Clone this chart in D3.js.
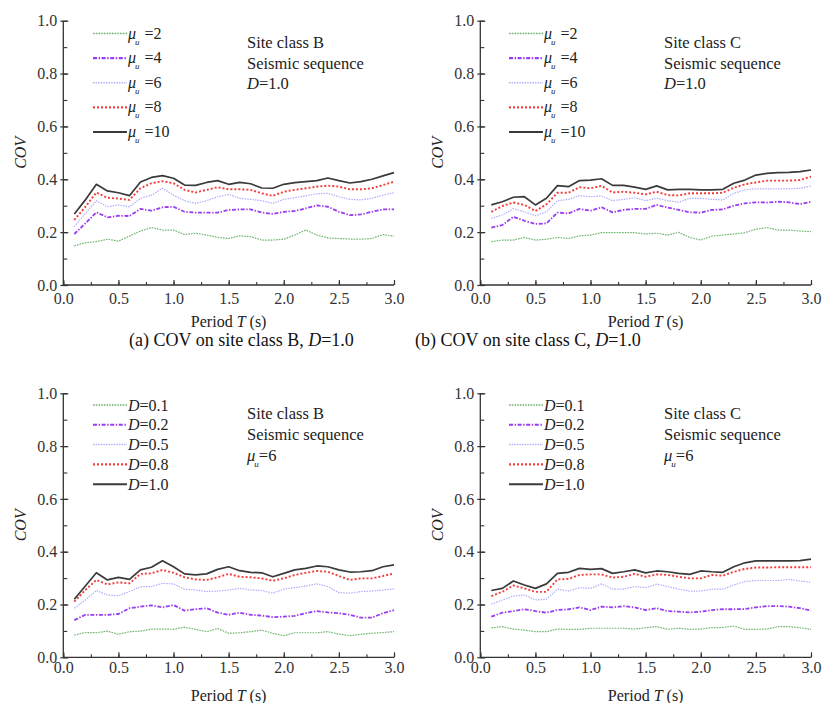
<!DOCTYPE html>
<html><head><meta charset="utf-8">
<script src="https://cdn.jsdelivr.net/npm/d3@7"></script>
<style>
body{margin:0;background:#fff;}
svg, svg text{font-family:'Liberation Serif','Times New Roman',Times,'DejaVu Serif',serif !important;}
</style></head>
<body><svg id="c" width="822" height="703"></svg>
<script>
// ---- data ----
const periods = [0.1,0.2,0.3,0.4,0.5,0.6,0.7,0.8,0.9,1.0,1.1,1.2,1.3,1.4,1.5,1.6,1.7,1.8,1.9,2.0,2.1,2.2,2.3,2.4,2.5,2.6,2.7,2.8,2.9,3.0];
const xTicks = [0.0,0.5,1.0,1.5,2.0,2.5,3.0];
const yTicks = [0.0,0.2,0.4,0.6,0.8,1.0];

const muLabels = ["2","4","6","8","10"];
const dLabels = ["0.1","0.2","0.5","0.8","1.0"];

// (a) site class B, D=1.0
const a_mu2  = [0.148,0.160,0.164,0.173,0.166,0.185,0.204,0.217,0.208,0.208,0.191,0.196,0.189,0.180,0.176,0.186,0.183,0.170,0.170,0.173,0.189,0.208,0.189,0.178,0.176,0.174,0.173,0.176,0.191,0.185];
const a_mu4  = [0.193,0.233,0.275,0.256,0.262,0.261,0.288,0.281,0.294,0.296,0.277,0.274,0.274,0.274,0.284,0.286,0.286,0.274,0.269,0.277,0.280,0.290,0.301,0.296,0.277,0.264,0.267,0.277,0.286,0.286];
const a_mu6  = [0.221,0.271,0.319,0.296,0.303,0.296,0.328,0.340,0.366,0.340,0.319,0.309,0.319,0.334,0.343,0.328,0.324,0.319,0.309,0.324,0.330,0.337,0.345,0.347,0.334,0.324,0.322,0.328,0.340,0.349];
const a_mu8  = [0.246,0.296,0.350,0.330,0.327,0.322,0.366,0.385,0.393,0.385,0.360,0.350,0.360,0.370,0.362,0.362,0.360,0.347,0.337,0.353,0.360,0.366,0.372,0.376,0.372,0.362,0.362,0.366,0.378,0.391];
const a_mu10 = [0.269,0.322,0.381,0.356,0.349,0.338,0.390,0.407,0.414,0.404,0.378,0.377,0.388,0.395,0.381,0.388,0.383,0.367,0.366,0.381,0.387,0.391,0.395,0.405,0.395,0.386,0.391,0.400,0.413,0.425];

// (b) site class C, D=1.0
const b_mu2  = [0.164,0.170,0.170,0.180,0.170,0.173,0.180,0.176,0.186,0.189,0.198,0.198,0.198,0.198,0.193,0.196,0.189,0.199,0.180,0.170,0.185,0.189,0.193,0.198,0.211,0.217,0.208,0.208,0.204,0.202];
const b_mu4  = [0.217,0.227,0.258,0.243,0.231,0.233,0.274,0.271,0.288,0.281,0.294,0.275,0.284,0.288,0.288,0.303,0.293,0.284,0.275,0.274,0.284,0.286,0.300,0.309,0.313,0.312,0.315,0.313,0.306,0.315];
const b_mu6  = [0.252,0.265,0.289,0.277,0.262,0.277,0.319,0.324,0.338,0.334,0.337,0.319,0.324,0.330,0.319,0.328,0.319,0.313,0.328,0.328,0.324,0.322,0.347,0.360,0.364,0.364,0.364,0.364,0.366,0.375];
const b_mu8  = [0.277,0.299,0.312,0.303,0.280,0.305,0.349,0.349,0.370,0.366,0.375,0.350,0.353,0.349,0.343,0.353,0.340,0.339,0.347,0.347,0.347,0.349,0.368,0.381,0.388,0.395,0.395,0.395,0.397,0.410];
const b_mu10 = [0.303,0.315,0.332,0.334,0.303,0.328,0.376,0.372,0.395,0.397,0.402,0.377,0.377,0.370,0.362,0.375,0.360,0.362,0.362,0.360,0.360,0.362,0.385,0.397,0.416,0.422,0.425,0.426,0.429,0.435];

// (c) site class B, mu=6
const c_d01 = [0.084,0.094,0.093,0.099,0.087,0.097,0.099,0.107,0.107,0.106,0.114,0.106,0.097,0.109,0.091,0.093,0.097,0.103,0.091,0.082,0.093,0.093,0.093,0.097,0.088,0.082,0.087,0.091,0.094,0.097];
const c_d02 = [0.141,0.161,0.161,0.161,0.164,0.186,0.192,0.197,0.189,0.198,0.177,0.182,0.186,0.169,0.161,0.169,0.161,0.158,0.152,0.154,0.157,0.167,0.175,0.170,0.167,0.161,0.150,0.150,0.167,0.179];
const c_d05 = [0.186,0.217,0.253,0.236,0.233,0.249,0.268,0.268,0.280,0.278,0.258,0.255,0.249,0.251,0.255,0.261,0.255,0.253,0.243,0.258,0.264,0.270,0.278,0.268,0.245,0.243,0.249,0.251,0.255,0.259];
const c_d08 = [0.211,0.255,0.293,0.276,0.284,0.280,0.316,0.318,0.331,0.320,0.303,0.295,0.293,0.303,0.316,0.305,0.303,0.299,0.290,0.299,0.312,0.320,0.327,0.324,0.308,0.293,0.299,0.299,0.308,0.318];
const c_d10 = [0.220,0.270,0.320,0.293,0.303,0.295,0.331,0.341,0.366,0.343,0.316,0.312,0.316,0.333,0.343,0.328,0.322,0.320,0.305,0.318,0.331,0.337,0.346,0.343,0.331,0.323,0.324,0.328,0.343,0.350];

// (d) site class C, mu=6
const d_d01 = [0.112,0.116,0.107,0.103,0.097,0.097,0.107,0.106,0.106,0.110,0.110,0.110,0.110,0.107,0.112,0.116,0.106,0.110,0.106,0.107,0.112,0.113,0.118,0.106,0.106,0.107,0.116,0.116,0.112,0.106];
const d_d02 = [0.154,0.169,0.175,0.182,0.175,0.169,0.179,0.182,0.189,0.179,0.192,0.189,0.194,0.189,0.179,0.186,0.175,0.173,0.170,0.173,0.179,0.182,0.182,0.183,0.189,0.194,0.194,0.192,0.186,0.177];
const d_d05 = [0.201,0.217,0.232,0.236,0.217,0.220,0.258,0.251,0.264,0.261,0.278,0.258,0.258,0.268,0.264,0.277,0.268,0.258,0.251,0.251,0.258,0.258,0.274,0.287,0.291,0.291,0.291,0.295,0.289,0.284];
const d_d08 = [0.232,0.248,0.272,0.261,0.248,0.248,0.295,0.297,0.312,0.314,0.314,0.302,0.305,0.316,0.305,0.314,0.312,0.305,0.299,0.299,0.312,0.309,0.324,0.335,0.340,0.340,0.341,0.341,0.341,0.341];
const d_d10 = [0.253,0.261,0.289,0.274,0.261,0.278,0.318,0.322,0.337,0.333,0.336,0.318,0.324,0.331,0.320,0.327,0.324,0.318,0.314,0.327,0.324,0.322,0.343,0.358,0.365,0.365,0.365,0.365,0.366,0.372];

// ---- styles ----
const styles = [
  {color:"#6db36d", width:1.2, dash:"1.6,1.1"},
  {color:"#9a3cf0", width:1.8, dash:"4,1.6,1.4,1.6"},
  {color:"#a9a9ff", width:1.2, dash:"1.4,1.2"},
  {color:"#f53c3c", width:1.9, dash:"2,2"},
  {color:"#3a3a3a", width:1.7, dash:null}
];

const svg = d3.select("#c");

const panels = [
  {left:63.3, right:394, top:20.7, bottom:285, series:[a_mu2,a_mu4,a_mu6,a_mu8,a_mu10], legendType:"mu", labels:muLabels,
   legX:93, legY:33.5, legStep:24.6, annX:247, annY:48, annStep:20.5, site:"B", third:"D", xlabY:327, tickLabY:304},
  {left:480.3, right:811, top:20.7, bottom:285, series:[b_mu2,b_mu4,b_mu6,b_mu8,b_mu10], legendType:"mu", labels:muLabels,
   legX:509, legY:33.5, legStep:24.6, annX:664, annY:48, annStep:20.5, site:"C", third:"D", xlabY:327, tickLabY:304},
  {left:63.3, right:394, top:393.3, bottom:657.3, series:[c_d01,c_d02,c_d05,c_d08,c_d10], legendType:"D", labels:dLabels,
   legX:93, legY:405, legStep:19.8, annX:247, annY:419, annStep:21, site:"B", third:"mu", xlabY:701, tickLabY:673},
  {left:480.3, right:811, top:393.3, bottom:657.3, series:[d_d01,d_d02,d_d05,d_d08,d_d10], legendType:"D", labels:dLabels,
   legX:509, legY:405, legStep:19.8, annX:664, annY:419, annStep:21, site:"C", third:"mu", xlabY:701, tickLabY:673}
];

function muText(sel, x, y, rest, fs, gap){
  const t = sel.append("text").attr("x",x).attr("y",y).attr("font-size",fs).attr("fill","#222");
  t.append("tspan").attr("font-style","italic").text("μ");
  t.append("tspan").attr("font-size",fs*0.55).attr("font-style","italic").attr("dy",fs*0.38).attr("dx",-1).text("u");
  t.append("tspan").attr("dy",-fs*0.38).attr("dx",gap).text(rest);
}
function dText(sel, x, y, rest, fs){
  const t = sel.append("text").attr("x",x).attr("y",y).attr("font-size",fs).attr("fill","#222");
  t.append("tspan").attr("font-style","italic").text("D");
  t.append("tspan").text(rest);
}

panels.forEach(p => {
  const x = d3.scaleLinear().domain([0,3]).range([p.left,p.right]);
  const y = d3.scaleLinear().domain([0,1]).range([p.bottom,p.top]);
  const g = svg.append("g");

  // axes
  const xMinor = d3.range(0,3.0001,0.25);
  const yMinor = d3.range(0,1.0001,0.1);
  g.append("g").attr("transform",`translate(0,${p.bottom})`)
    .call(d3.axisBottom(x).tickValues(xMinor).tickSize(-3).tickFormat(""))
    .call(a=>{a.select(".domain").remove(); a.selectAll("line").attr("stroke","#333").attr("stroke-width",1.1);});
  g.append("g").attr("transform",`translate(0,${p.bottom})`)
    .call(d3.axisBottom(x).tickValues(xTicks).tickSize(-5).tickPadding(10).tickFormat(d3.format(".1f")))
    .call(a=>{a.attr("font-family",null);
      a.select(".domain").attr("stroke","#333").attr("stroke-width",1.3).attr("d",`M${p.left},0H${p.right}`);
      a.selectAll("line").attr("stroke","#333").attr("stroke-width",1.2);
      a.selectAll("text").attr("font-size",16).attr("fill","#333")
        .attr("y",0).attr("dy",0).attr("transform",`translate(0,${p.tickLabY-p.bottom})`);});
  g.append("g").attr("transform",`translate(${p.left},0)`)
    .call(d3.axisLeft(y).tickValues(yMinor).tickSize(-4).tickFormat(""))
    .call(a=>{a.select(".domain").remove(); a.selectAll("line").attr("stroke","#333").attr("stroke-width",1.1);});
  g.append("g").attr("transform",`translate(${p.left},0)`)
    .call(d3.axisLeft(y).tickValues(yTicks).tickSize(3).tickPadding(3).tickFormat(d3.format(".1f")))
    .call(a=>{a.attr("font-family",null);
      a.select(".domain").attr("stroke","#333").attr("stroke-width",1.3).attr("d",`M0,${p.top}V${p.bottom}`);
      a.selectAll("line").attr("stroke","#333").attr("stroke-width",1.2).attr("x1",5).attr("x2",-3);
      a.selectAll("text").attr("font-size",16).attr("fill","#333");});

  // axis titles
  g.append("text").attr("transform",`translate(${p.left-43},${(p.top+p.bottom)/2}) rotate(-90)`)
    .attr("text-anchor","middle").attr("dy","0.35em").attr("font-style","italic")
    .attr("font-size",16).attr("fill","#222").text("COV");
  const xt = g.append("text").attr("x",(p.left+p.right)/2).attr("y",p.xlabY).attr("text-anchor","middle")
    .attr("font-size",16).attr("fill","#222");
  xt.append("tspan").text("Period ");
  xt.append("tspan").attr("font-style","italic").text("T");
  xt.append("tspan").text(" (s)");

  // lines
  const line = d3.line().x((d,i)=>x(periods[i])).y(d=>y(d));
  p.series.forEach((s,k)=>{
    const st = styles[k];
    g.append("path").datum(s).attr("d",line).attr("fill","none")
      .attr("stroke",st.color).attr("stroke-width",st.width)
      .attr("stroke-dasharray",st.dash).attr("stroke-linejoin","round");
  });

  // legend
  p.labels.forEach((lab,k)=>{
    const st = styles[k];
    const ly = p.legY + k*p.legStep;
    g.append("line").attr("x1",p.legX).attr("x2",p.legX+34).attr("y1",ly).attr("y2",ly)
      .attr("stroke",st.color).attr("stroke-width",st.width+0.3).attr("stroke-dasharray",st.dash);
    if(p.legendType==="mu") muText(g, p.legX+35, ly+5, "=" + lab, 16, 5);
    else dText(g, p.legX+35, ly+5.5, "=" + lab, 16);
  });

  // annotation
  const ann = g.append("g");
  ann.append("text").attr("x",p.annX).attr("y",p.annY).attr("font-size",16.5).attr("fill","#222").text("Site class " + p.site);
  ann.append("text").attr("x",p.annX).attr("y",p.annY+p.annStep).attr("font-size",16.5).attr("fill","#222").text("Seismic sequence");
  if(p.third==="D") dText(ann, p.annX, p.annY+2*p.annStep, "=1.0", 16.5);
  else muText(ann, p.annX, p.annY+2*p.annStep, "=6", 16.5, 0);
});

// captions
function caption(x0, letter, site){
  const t = svg.append("text").attr("x",x0).attr("y",346).attr("font-size",18).attr("fill","#111");
  t.append("tspan").text(`(${letter}) COV on site class ${site}, `);
  t.append("tspan").attr("font-style","italic").text("D");
  t.append("tspan").text("=1.0");
}
caption(129,"a","B");
caption(415,"b","C");
</script>
</body></html>
